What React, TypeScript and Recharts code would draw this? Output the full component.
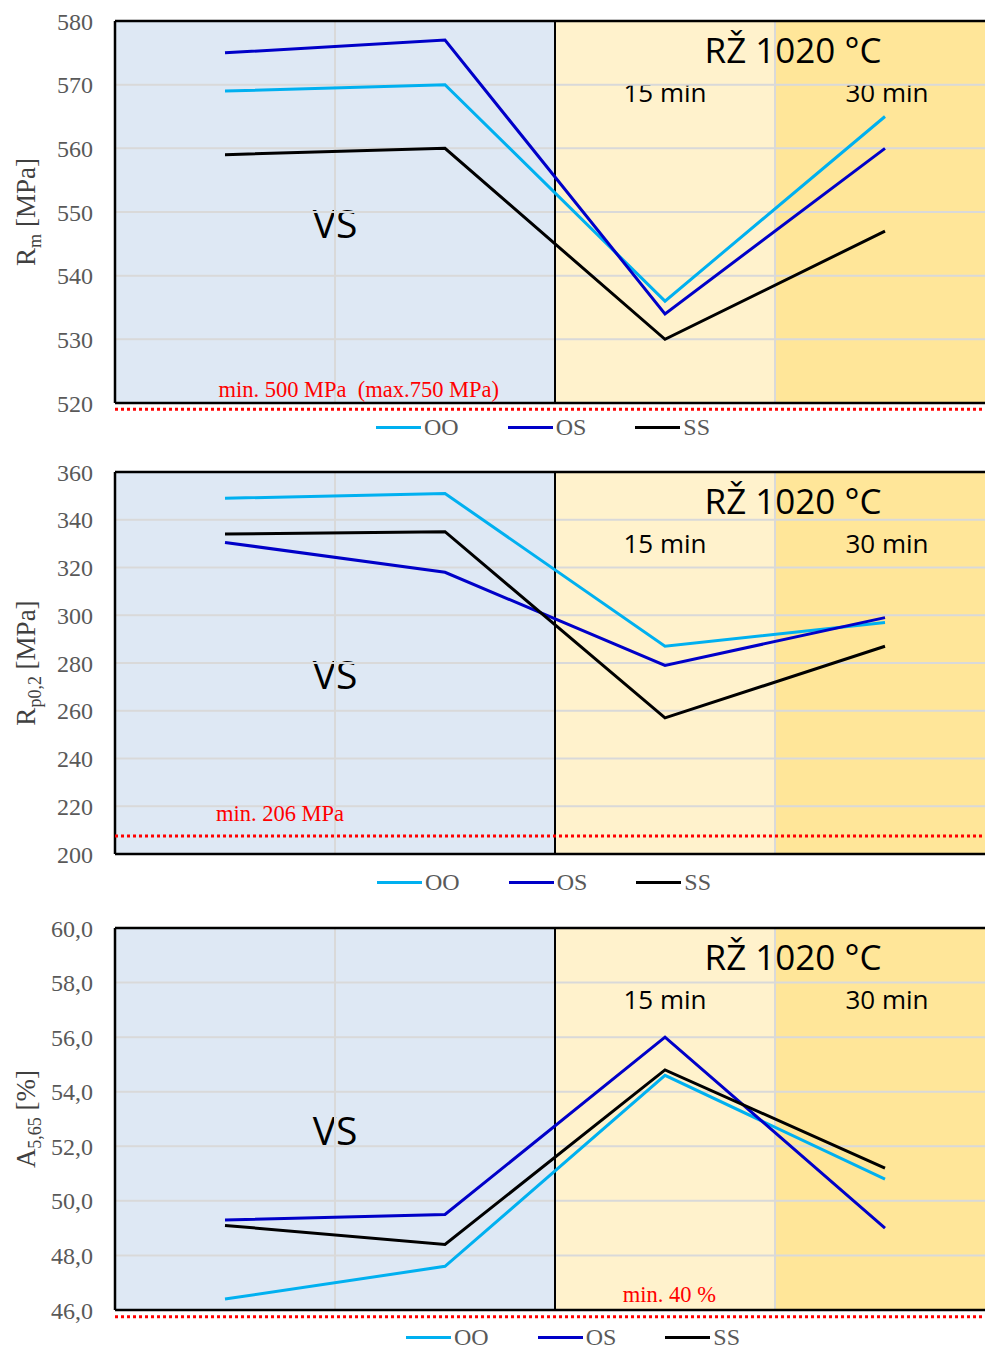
import React from 'react';
import { LineChart, Line, XAxis, YAxis, ReferenceArea, ReferenceLine, Legend } from 'recharts';

// ---------- data ----------
const categories = ['VS 1', 'VS 2', 'RŽ 1020 °C 15 min', 'RŽ 1020 °C 30 min'];
const seriesNames = ['OO', 'OS', 'SS'];
const seriesColors = ['#00B0F0', '#0000C8', '#000000'];

const rmOO = [569, 570, 536, 565];
const rmOS = [575, 577, 534, 560];
const rmSS = [559, 560, 530, 547];

const rpOO = [349, 351, 287, 297];
const rpOS = [330.5, 318, 279, 299];
const rpSS = [334, 335, 257, 287];

const aOO = [46.4, 47.6, 54.6, 50.8];
const aOS = [49.3, 49.5, 56.0, 49.0];
const aSS = [49.1, 48.4, 54.8, 51.2];

const rmTicks = [520, 530, 540, 550, 560, 570, 580];
const rpTicks = [200, 220, 240, 260, 280, 300, 320, 340, 360];
const aTicks = [46, 48, 50, 52, 54, 56, 58, 60];

const rmLimit = 519;
const rpLimit = 207.5;
const aLimit = 45.75;

const rmLimitText = 'min. 500 MPa  (max.750 MPa)';
const rpLimitText = 'min. 206 MPa';
const aLimitText = 'min. 40 %';

const vsLabel = 'VS';
const rzLabel = 'RŽ 1020 °C';
const time15Label = '15 min';
const time30Label = '30 min';

function buildRows(oo: number[], os: number[], ss: number[]) {
  return categories.map((c, i) => ({ cat: c, x: i + 0.5, OO: oo[i], OS: os[i], SS: ss[i] }));
}

const rmRows = buildRows(rmOO, rmOS, rmSS);
const rpRows = buildRows(rpOO, rpOS, rpSS);
const aRows = buildRows(aOO, aOS, aSS);

// ---------- styles ----------
const SERIF = "'Liberation Serif', 'Times New Roman', serif";
const SANS = "'Open Sans', sans-serif";
const CHART_W = 1005;
const CHART_H = 451;
const BLUE_BG = '#DEE8F4';
const Y1_BG = '#FFF2CC';
const Y2_BG = '#FFE699';
const GRID = '#D9D9D9';

type PanelProps = {
  top: number;
  rows: any[];
  ticks: number[];
  fmt?: (v: number) => string;
  titleMain: string;
  titleSub: string;
  titleRest: string;
  limitY: number;
  limitText: string;
  limitFrac: number;
  limitGap: number;
  legendLeft: number;
  legendPad: number;
};

function Panel(props: PanelProps) {
  const { top, rows, ticks, fmt, titleMain, titleSub, titleRest, limitY, limitText, limitFrac, limitGap, legendLeft, legendPad } = props;
  const yMin = ticks[0];
  const yMax = ticks[ticks.length - 1];
  const format = fmt || ((v: number) => String(v));

  const renderLegend = (lp: any) => {
    const payload = lp.payload || [];
    return (
      <div
        style={{
          height: 44,
          boxSizing: 'border-box',
          paddingLeft: legendLeft,
          paddingTop: legendPad,
          display: 'flex',
          alignItems: 'flex-start',
          width: CHART_W,
        }}
      >
        {payload.map((it: any, i: number) => (
          <div key={i} style={{ display: 'flex', alignItems: 'center', marginRight: 49, height: 24 }}>
            <span style={{ display: 'inline-block', width: 45, height: 3, background: it.color, marginRight: 3 }} />
            <span style={{ fontFamily: SERIF, fontSize: 24, color: '#595959', lineHeight: '24px' }}>{it.value}</span>
          </div>
        ))}
      </div>
    );
  };

  const renderTick = (p: any) => (
    <text
      x={p.x}
      y={p.y}
      dy="0.36em"
      textAnchor="end"
      fontFamily={SERIF}
      fontSize={24}
      fill="#595959"
    >
      {format(p.payload.value)}
    </text>
  );

  return (
    <div style={{ position: 'absolute', left: 0, top }}>
      <LineChart width={CHART_W} height={CHART_H} data={rows} margin={{ top: 21, right: 10, bottom: 4, left: 0 }}>
        <XAxis type="number" dataKey="x" domain={[0, 4]} hide allowDataOverflow />
        <YAxis
          type="number"
          domain={[yMin, yMax]}
          ticks={ticks}
          interval={0}
          width={115}
          tickLine={false}
          axisLine={false}
          tickMargin={16}
          tick={renderTick}
          label={{
            content: (p: any) => {
              const vb = p.viewBox || { x: 0, y: 21, width: 115, height: 382 };
              const cx = (vb.x || 0) + 35;
              const cy = vb.y + vb.height / 2;
              return (
                <text
                  x={cx}
                  y={cy}
                  transform={`rotate(-90 ${cx} ${cy})`}
                  textAnchor="middle"
                  fontFamily={SERIF}
                  fontSize={27}
                  fill="#404040"
                  style={{ whiteSpace: 'pre' }}
                >
                  {titleMain}
                  <tspan dy={6} fontSize={18}>{titleSub}</tspan>
                  <tspan dy={-6}>{' ' + titleRest}</tspan>
                </text>
              );
            },
          }}
        />
        <ReferenceArea
          x1={0}
          x2={2}
          y1={yMin}
          y2={yMax}
          fill={BLUE_BG}
          fillOpacity={1}
          stroke="none"
          label={{
            content: (p: any) => {
              const vb = p.viewBox;
              if (!vb) return null;
              return (
                <text x={vb.x + vb.width / 2} y={vb.y + vb.height / 2 + 26} textAnchor="middle" fontFamily={SANS} fontSize={39} fill="#000">
                  {vsLabel}
                </text>
              );
            },
          }}
        />
        <ReferenceArea x1={2} x2={3} y1={yMin} y2={yMax} fill={Y1_BG} fillOpacity={1} stroke="none" />
        <ReferenceArea x1={3} x2={4} y1={yMin} y2={yMax} fill={Y2_BG} fillOpacity={1} stroke="none" />
        <ReferenceArea
          x1={2}
          x2={4}
          y1={yMin}
          y2={yMax}
          fill="none"
          fillOpacity={0}
          stroke="none"
          label={{
            content: (p: any) => {
              const vb = p.viewBox;
              if (!vb) return null;
              return (
                <g>
                  <text x={vb.x + vb.width / 2 + 18} y={vb.y + 42} textAnchor="middle" fontFamily={SANS} fontSize={35} fill="#000">
                    {rzLabel}
                  </text>
                  <text x={vb.x + vb.width * 0.25} y={vb.y + 81} textAnchor="middle" fontFamily={SANS} fontSize={26} fill="#000">
                    {time15Label}
                  </text>
                  <text x={vb.x + vb.width * 0.75 + 2} y={vb.y + 81} textAnchor="middle" fontFamily={SANS} fontSize={26} fill="#000">
                    {time30Label}
                  </text>
                </g>
              );
            },
          }}
        />
        {ticks.slice(1, -1).map((t) => (
          <ReferenceLine key={'g' + t} y={t} stroke={GRID} strokeWidth={2} />
        ))}
        <ReferenceLine x={1} stroke={GRID} strokeWidth={2} />
        <ReferenceLine x={3} stroke={GRID} strokeWidth={2} />
        <ReferenceLine x={2} stroke="#000" strokeWidth={2} />
        <ReferenceLine x={0} stroke="#000" strokeWidth={2.5} />
        <ReferenceLine y={yMax} stroke="#000" strokeWidth={2.5} />
        <ReferenceLine y={yMin} stroke="#000" strokeWidth={2.5} />
        <ReferenceLine
          y={limitY}
          stroke="#FF0000"
          strokeWidth={3}
          strokeDasharray="3 3"
          ifOverflow="visible"
          label={{
            content: (p: any) => {
              const vb = p.viewBox;
              if (!vb) return null;
              return (
                <text
                  x={vb.x + vb.width * limitFrac}
                  y={vb.y - limitGap}
                  textAnchor="middle"
                  fontFamily={SERIF}
                  fontSize={22.5}
                  fill="#FF0000"
                  style={{ whiteSpace: 'pre' }}
                >
                  {limitText}
                </text>
              );
            },
          }}
        />
        {seriesNames.map((s, i) => (
          <Line
            key={s}
            type="linear"
            dataKey={s}
            name={s}
            stroke={seriesColors[i]}
            strokeWidth={3}
            dot={false}
            activeDot={false}
            isAnimationActive={false}
          />
        ))}
        <Legend verticalAlign="bottom" content={renderLegend} />
      </LineChart>
    </div>
  );
}

const commaFmt = (v: number) => v.toFixed(1).replace('.', ',');

export default function App() {
  return (
    <div style={{ position: 'absolute', left: 0, top: 0, width: 985, height: 1349, overflow: 'hidden', background: '#fff' }}>
      <Panel
        top={0}
        rows={rmRows}
        ticks={rmTicks}
        titleMain="R"
        titleSub="m"
        titleRest="[MPa]"
        limitY={rmLimit}
        limitText={rmLimitText}
        limitFrac={0.277}
        limitGap={12}
        legendLeft={376}
        legendPad={12}
      />
      <Panel
        top={451}
        rows={rpRows}
        ticks={rpTicks}
        titleMain="R"
        titleSub="p0,2"
        titleRest="[MPa]"
        limitY={rpLimit}
        limitText={rpLimitText}
        limitFrac={0.1875}
        limitGap={15}
        legendLeft={377}
        legendPad={16}
      />
      <Panel
        top={907}
        rows={aRows}
        ticks={aTicks}
        fmt={commaFmt}
        titleMain="A"
        titleSub="5,65"
        titleRest="[%]"
        limitY={aLimit}
        limitText={aLimitText}
        limitFrac={0.63}
        limitGap={15}
        legendLeft={406}
        legendPad={15}
      />
    </div>
  );
}
